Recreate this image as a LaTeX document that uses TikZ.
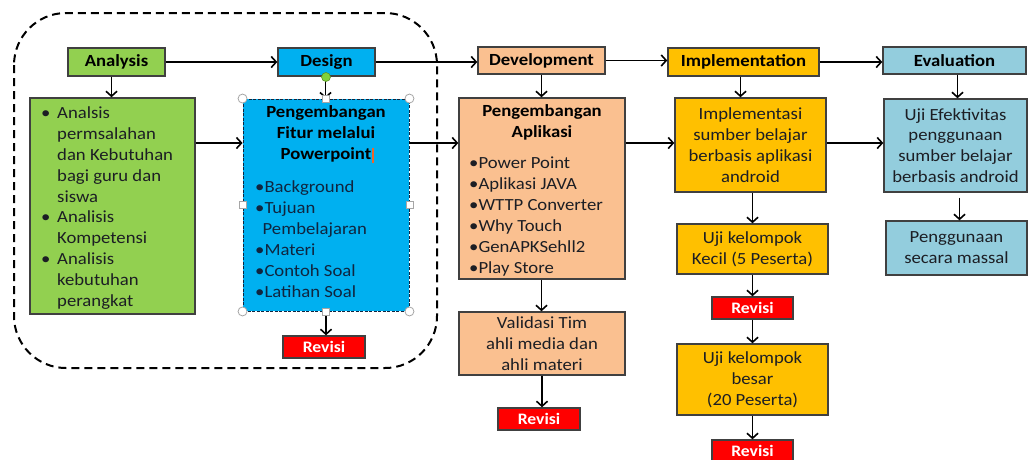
\documentclass[tikz,border=0pt]{standalone}
\usepackage{fontspec}
\setmainfont[FakeStretch=1.1]{Carlito}
\usetikzlibrary{arrows.meta}
\definecolor{cgreen}{HTML}{92D050}
\definecolor{cblue}{HTML}{00B0F0}
\definecolor{cpeach}{HTML}{FAC090}
\definecolor{cgold}{HTML}{FFC000}
\definecolor{clblue}{HTML}{93CDDD}
\definecolor{cred}{HTML}{FF0000}
\definecolor{cline}{HTML}{404040}
\definecolor{ctext}{HTML}{1C1E24}
\definecolor{cnavy}{HTML}{10253F}
\definecolor{corange}{HTML}{F0642C}
\definecolor{chandle}{HTML}{7FD13B}
\begin{document}
\begin{tikzpicture}[x=1pt,y=-1pt,
  box/.style={draw=cline, line width=1.4pt, inner sep=0pt, text=ctext, align=center,
    font=\fontsize{17}{20.8}\selectfont},
  head/.style={box, text=black, font=\fontsize{17}{21}\selectfont\bfseries},
  rev/.style={box, fill=cred, text=white, font=\fontsize{16}{18}\selectfont\bfseries,
    minimum width=82pt, minimum height=22pt},
  txt/.style={inner sep=0pt, text=ctext, font=\fontsize{17}{21}\selectfont},
  arr/.style={line width=1.6pt, -{Straight Barb[length=5pt,width=11pt,line width=1.6pt]}},
  hcirc/.style={circle, draw=gray!70, fill=white, line width=0.8pt, minimum size=9pt, inner sep=0pt},
  hsq/.style={rectangle, draw=gray!70, fill=white, line width=0.8pt, minimum size=7pt, inner sep=0pt},
  ]
\clip (0,0) rectangle (1028,459);
\fill[white] (0,0) rectangle (1028,459);

% dashed group
\draw[line width=2pt, dash pattern=on 8pt off 5pt, rounded corners=52pt] (14,13) rectangle (437,368);

% headers
\node[head, fill=cgreen, minimum width=97pt, minimum height=28pt] (analysis) at (116.5,62) {Analysis};
\node[head, fill=cblue, minimum width=97pt, minimum height=28pt] (design) at (326.5,62) {Design};
\node[head, fill=cpeach, minimum width=127pt, minimum height=27pt] (development) at (541.5,60.5) {Development};
\node[head, fill=cgold, minimum width=151pt, minimum height=28pt] (implementation) at (743.5,62) {Implementation};
\node[head, fill=clblue, minimum width=143pt, minimum height=27pt] (evaluation) at (954.5,60.5) {Evaluation};

% content boxes
\node[box, fill=cgreen, minimum width=165pt, minimum height=216pt] (alist) at (112.5,206) {};
\node[txt, anchor=west, align=left, font=\fontsize{17}{20.8}\selectfont] (alisttext) at (41,208) {%
\makebox[16pt][l]{•}Analsis\\\hspace*{16pt}permsalahan\\\hspace*{16pt}dan Kebutuhan\\\hspace*{16pt}bagi guru dan\\\hspace*{16pt}siswa\\
\makebox[16pt][l]{•}Analisis\\\hspace*{16pt}Kompetensi\\
\makebox[16pt][l]{•}Analisis\\\hspace*{16pt}kebutuhan\\\hspace*{16pt}perangkat};

\node[box, fill=cblue, draw=cnavy, line width=0.9pt, dash pattern=on 3pt off 1.5pt, minimum width=166pt, minimum height=212pt] (dcont) at (326,205) {};
\node[txt, text=black, align=center, font=\fontsize{17}{21}\selectfont\bfseries] (dtitle) at (326,134.5) {Pengembangan\\Fitur melalui\\Powerpoint\rlap{\hspace{1pt}\textcolor{corange}{\rule[-3pt]{1.4pt}{15pt}}}};
\node[txt, text=cnavy, anchor=west, align=left] (dlist) at (255,239) {•Background\\•Tujuan\\\hspace*{7.5pt}Pembelajaran\\•Materi\\•Contoh Soal\\•Latihan Soal};

\node[box, fill=cpeach, minimum width=166pt, minimum height=181pt] (devc) at (542,188.5) {};
\node[txt, text=black, align=center, font=\fontsize{17}{21}\selectfont\bfseries] (devtitle) at (542,122) {Pengembangan\\Aplikasi};
\node[txt, anchor=west, align=left] (devlist) at (469,217) {•Power Point\\•Aplikasi JAVA\\•WTTP Converter\\•Why Touch\\•GenAPKSehll2\\•Play Store};

\node[box, fill=cgold, minimum width=151pt, minimum height=94pt] (impc) at (750.5,145) {Implementasi\\sumber belajar\\berbasis aplikasi\\android};
\node[box, fill=clblue, minimum width=143pt, minimum height=93pt] (evc) at (955.5,145.5) {Uji Efektivitas\\penggunaan\\sumber belajar\\berbasis android};
\node[box, fill=cgold, minimum width=151pt, minimum height=50pt] (kecil) at (752.5,249) {Uji kelompok\\Kecil (5 Peserta)};
\node[box, fill=cgold, minimum width=151pt, minimum height=71pt] (besar) at (752.5,379.5) {Uji kelompok\\besar\\(20 Peserta)};
\node[box, fill=cpeach, minimum width=166pt, minimum height=63pt] (valid) at (542,343.5) {Validasi Tim\\ahli media dan\\ahli materi};
\node[box, fill=clblue, minimum width=141pt, minimum height=54pt] (pengg) at (956.5,248) {Penggunaan\\secara massal};

% revisi boxes
\node[rev] (rev1) at (324,347) {Revisi};
\node[rev] (rev2) at (539,419) {Revisi};
\node[rev, minimum width=81pt] (rev3) at (752.5,308) {Revisi};
\node[rev, minimum width=81pt] (rev4) at (752.5,451) {Revisi};

% header arrows
\draw[arr] (analysis.east) -- (design.west);
\draw[arr] (design.east) -- (design.east -| development.west);
\draw[arr] (development.east) -- (development.east -| implementation.west);
\draw[arr] (implementation.east) -- (implementation.east -| evaluation.west);

% row arrows
\coordinate (rowy) at (0,143);
\draw[arr] (alist.east |- rowy) -- (dcont.west |- rowy);
\draw[arr] (dcont.east |- rowy) -- (devc.west |- rowy);
\draw[arr] (devc.east |- rowy) -- (impc.west |- rowy);
\draw[arr] (impc.east |- rowy) -- (evc.west |- rowy);

% vertical arrows
\draw[arr] ([xshift=-5pt]analysis.south) -- ([xshift=-5pt]analysis.south |- alist.north);
\draw[arr] ([xshift=-1pt]design.south) -- ([xshift=-1pt]design.south |- dcont.north);
\draw[arr] (development.south) -- (development.south |- devc.north);
\draw[arr] ([xshift=-3pt]implementation.south) -- ([xshift=-3pt]implementation.south |- impc.north);
\draw[arr] ([xshift=3pt]evaluation.south) -- ([xshift=3pt]evaluation.south |- evc.north);
\draw[arr] (kecil.north |- impc.south) -- (kecil.north);
\draw[arr] (kecil.south) -- (rev3.north);
\draw[arr] (rev3.south) -- (besar.north);
\draw[arr] (besar.south) -- (rev4.north);
\draw[arr] (development.south |- devc.south) -- (development.south |- valid.north);
\draw[arr] (valid.south) -- (valid.south |- rev2.north);
\draw[arr] ([xshift=4pt,yshift=-5pt]evc.south) -- ([xshift=4pt]evc.south |- pengg.north);
\draw[arr] (dcont.south) -- (dcont.south |- rev1.north);

% selection handles
\node[hcirc] (hnw) at (dcont.north west) {};
\node[hcirc] (hne) at (dcont.north east) {};
\node[hcirc] (hsw) at (dcont.south west) {};
\node[hcirc] (hse) at (dcont.south east) {};
\node[hsq] (hn) at (dcont.north) {};
\node[hsq] (hs) at (dcont.south) {};
\node[hsq] (hw) at (dcont.west) {};
\node[hsq] (he) at (dcont.east) {};
\node[circle, draw=chandle!70!black, fill=chandle, line width=0.6pt, minimum size=9pt, inner sep=0pt] (hrot) at (326,77) {};
\end{tikzpicture}
\end{document}
